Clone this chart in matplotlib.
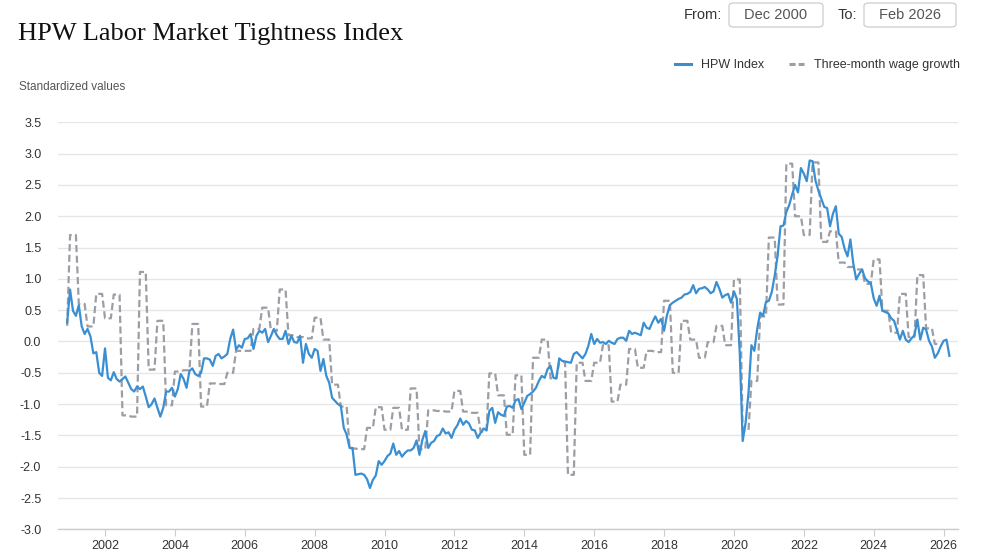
import numpy as np
import matplotlib
matplotlib.use("Agg")
import matplotlib.pyplot as plt
from matplotlib.patches import FancyBboxPatch
from matplotlib.lines import Line2D

# monthly HPW index, Dec 2000 .. Feb 2026
hpw_dec_2000 = [0.30]
hpw_by_year = {
    2001: [0.83, 0.49, 0.41, 0.58, 0.24, 0.12, 0.20, 0.08, -0.19, -0.17, -0.50, -0.55],
    2002: [-0.11, -0.58, -0.62, -0.49, -0.60, -0.64, -0.60, -0.56, -0.66, -0.76, -0.80, -0.72],
    2003: [-0.76, -0.72, -0.88, -1.05, -1.00, -0.91, -1.06, -1.20, -1.06, -0.80, -0.80, -0.74],
    2004: [-0.88, -0.76, -0.52, -0.60, -0.74, -0.47, -0.43, -0.52, -0.55, -0.50, -0.27, -0.27],
    2005: [-0.29, -0.39, -0.23, -0.20, -0.27, -0.24, -0.20, 0.04, 0.19, -0.13, -0.06, -0.10],
    2006: [0.04, 0.05, 0.12, -0.12, 0.09, 0.17, 0.14, 0.20, -0.01, 0.09, 0.20, 0.10],
    2007: [0.04, 0.04, 0.17, -0.04, 0.09, -0.01, -0.02, 0.09, -0.34, -0.04, -0.20, -0.26],
    2008: [-0.12, -0.15, -0.47, -0.28, -0.55, -0.66, -0.90, -0.95, -1.00, -1.03, -1.38, -1.49],
    2009: [-1.70, -1.70, -2.13, -2.12, -2.11, -2.13, -2.20, -2.34, -2.21, -2.14, -1.91, -1.97],
    2010: [-1.91, -1.83, -1.79, -1.63, -1.81, -1.75, -1.84, -1.78, -1.74, -1.74, -1.70, -1.58],
    2011: [-1.81, -1.57, -1.43, -1.70, -1.62, -1.59, -1.51, -1.49, -1.39, -1.47, -1.45, -1.54],
    2012: [-1.41, -1.34, -1.23, -1.33, -1.27, -1.31, -1.41, -1.42, -1.54, -1.46, -1.39, -1.42],
    2013: [-1.11, -1.06, -1.30, -1.13, -1.17, -1.19, -1.04, -1.03, -1.06, -0.94, -0.92, -1.08],
    2014: [-0.98, -0.87, -0.84, -0.80, -0.74, -0.63, -0.55, -0.58, -0.44, -0.39, -0.58, -0.59],
    2015: [-0.27, -0.31, -0.32, -0.33, -0.34, -0.20, -0.17, -0.22, -0.27, -0.20, -0.07, 0.12],
    2016: [-0.04, 0.04, -0.02, -0.01, -0.04, 0.01, -0.02, -0.04, 0.04, 0.06, 0.06, 0.01],
    2017: [0.17, 0.12, 0.14, 0.12, 0.10, 0.30, 0.22, 0.20, 0.31, 0.40, 0.30, 0.36],
    2018: [0.17, 0.42, 0.58, 0.62, 0.65, 0.68, 0.70, 0.75, 0.76, 0.79, 0.90, 0.77],
    2019: [0.84, 0.85, 0.87, 0.83, 0.77, 0.80, 0.95, 0.84, 0.70, 0.74, 0.76, 0.62],
    2020: [0.80, 0.68, -0.18, -1.59, -1.30, -0.82, -0.06, -0.15, 0.20, 0.46, 0.41, 0.63],
    2021: [0.65, 0.79, 1.05, 1.37, 1.84, 1.85, 2.07, 2.18, 2.35, 2.50, 2.38, 2.77],
    2022: [2.68, 2.56, 2.89, 2.88, 2.57, 2.41, 2.28, 2.15, 2.13, 1.84, 2.04, 2.16],
    2023: [1.72, 1.67, 1.48, 1.36, 1.63, 1.24, 0.99, 1.08, 1.15, 1.01, 0.96, 0.93],
    2024: [0.69, 0.57, 0.73, 0.49, 0.47, 0.45, 0.37, 0.33, 0.18, 0.03, 0.17, 0.03],
    2025: [-0.01, 0.05, 0.10, 0.35, 0.03, 0.22, 0.19, 0.01, -0.08, -0.26, -0.19, -0.08],
    2026: [0.01, 0.03, -0.23],
}

# three-month wage growth, quarterly values (Q4 2000 .. Q4 2025)
wage_q = [
    0.25,
    1.70, 0.60, 0.24, 0.76,      # 2001
    0.37, 0.75, -1.18, -1.20,    # 2002
    1.11, -0.45, 0.33, -1.02,    # 2003
    -0.48, -0.46, 0.28, -1.04,   # 2004
    -0.67, -0.68, -0.50, -0.15,  # 2005
    -0.15, 0.20, 0.54, 0.17,     # 2006
    0.83, 0.10, 0.07, 0.05,      # 2007
    0.38, 0.03, -0.69, -1.04,    # 2008
    -1.71, -1.72, -1.38, -1.05,  # 2009
    -1.41, -1.06, -1.41, -0.75,  # 2010
    -1.72, -1.10, -1.11, -1.12,  # 2011
    -0.79, -1.12, -1.14, -1.44,  # 2012
    -0.51, -0.86, -1.49, -0.54,  # 2013
    -1.81, -0.26, 0.03, -0.59,   # 2014
    -0.33, -2.13, -0.34, -0.63,  # 2015
    -0.34, -0.06, -0.96, -0.69,  # 2016
    -0.12, -0.42, -0.15, -0.17,  # 2017
    0.65, -0.50, 0.33, 0.03,     # 2018
    -0.26, -0.01, 0.25, -0.06,   # 2019
    0.99, -1.42, -0.63, 0.40,    # 2020
    1.66, 0.59, 2.84, 2.00,      # 2021
    1.70, 2.86, 1.59, 1.76,      # 2022
    1.26, 1.19, 1.15, 0.92,      # 2023
    1.31, 0.49, 0.14, 0.76,      # 2024
    0.07, 1.06, 0.21, -0.04,     # 2025
]

year_ticks = list(range(2002, 2027, 2))
y_ticks = [-3.0, -2.5, -2.0, -1.5, -1.0, -0.5, 0.0, 0.5, 1.0, 1.5, 2.0, 2.5, 3.0, 3.5]

BLUE = "#3a8fd2"
GREY = "#9d9da5"
TXT = "#333333"


def main():
    hpw = list(hpw_dec_2000)
    for y in sorted(hpw_by_year):
        hpw += hpw_by_year[y]
    hpw = np.array(hpw)
    t = 2000 + 11 / 12 + np.arange(len(hpw)) / 12

    # quarterly value holds for its three months; series starts in Dec 2000, last reading Nov 2025
    wage = np.repeat(wage_q, 3)[2:302]
    t_wage = t[:len(wage)]

    fig = plt.figure(figsize=(9.85, 5.56), dpi=100)
    ax = fig.add_axes([0.0589, 0.048, 0.9137, 0.732])

    ax.plot(t_wage, wage, color=GREY, lw=1.6, dashes=(3.2, 1.6), zorder=2)
    ax.plot(t, hpw, color=BLUE, lw=1.6, zorder=3)

    ax.set_xlim(2000.655, 2026.413)
    ax.set_ylim(-3.0, 3.5)
    ax.set_xticks(year_ticks)
    ax.set_xticklabels([str(y) for y in year_ticks])
    ax.set_yticks(y_ticks)
    ax.set_yticklabels(["%.1f" % v for v in y_ticks])
    ax.grid(axis="y", color="#e6e6e6", lw=1)
    ax.set_axisbelow(True)
    for s in ["top", "right", "left"]:
        ax.spines[s].set_visible(False)
    ax.spines["bottom"].set_color("#cccccc")
    ax.spines["bottom"].set_linewidth(1)
    ax.tick_params(axis="y", length=0, pad=12, labelsize=9, labelcolor=TXT)
    ax.tick_params(axis="x", length=5, width=0.8, color="#cccccc", pad=3, labelsize=9, labelcolor=TXT)
    for lab in ax.get_xticklabels() + ax.get_yticklabels():
        lab.set_fontfamily("Liberation Sans")

    fig.text(0.018, 0.938, "HPW Labor Market Tightness Index", family="Liberation Serif",
             fontsize=19, color="#111111", va="center")
    fig.text(0.019, 0.843, "Standardized values", family="Liberation Sans",
             fontsize=8.5, color="#555555", va="center")

    # date range boxes
    for x0, w, lab_x, lab, val in [(729, 94, 722, "From:", "Dec 2000"), (864, 92, 857, "To:", "Feb 2026")]:
        box = FancyBboxPatch((x0 / 985, 1 - 27 / 556), w / 985, 24 / 556,
                             boxstyle="round,pad=0,rounding_size=0.005",
                             transform=fig.transFigure, facecolor="white",
                             edgecolor="#cccccc", lw=0.9)
        fig.patches.append(box)
        fig.text(lab_x / 985, 1 - 15 / 556, lab, ha="right", va="center",
                 family="Liberation Sans", fontsize=10.5, color=TXT)
        fig.text((x0 + w / 2) / 985, 1 - 15 / 556, val, ha="center", va="center",
                 family="Liberation Sans", fontsize=10.5, color="#555555")

    handles = [Line2D([], [], color=BLUE, lw=2.2),
               Line2D([], [], color=GREY, lw=2.2, dashes=(2, 1))]
    leg = fig.legend(handles, ["HPW Index", "Three-month wage growth"], loc="center right",
                     bbox_to_anchor=(0.975, 0.883), ncol=2, frameon=False,
                     borderpad=0, borderaxespad=0,
                     handlelength=1.25, handletextpad=0.8, columnspacing=2.0,
                     prop={"family": "Liberation Sans", "size": 9})
    for txt in leg.get_texts():
        txt.set_color(TXT)

    fig.savefig("out.png", dpi=100)


if __name__ == "__main__":
    main()
